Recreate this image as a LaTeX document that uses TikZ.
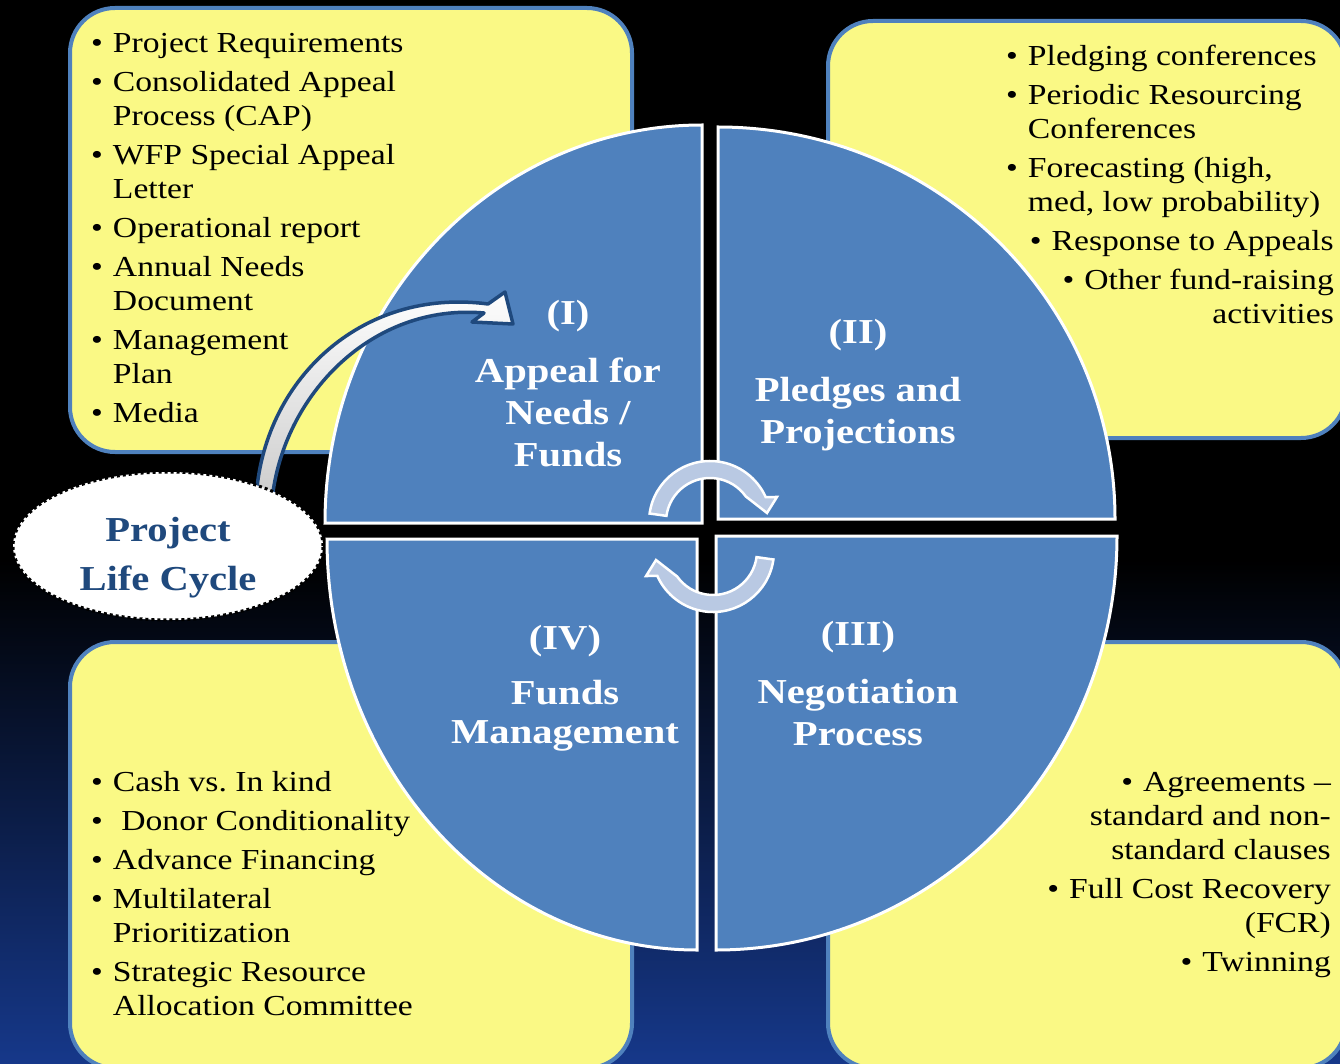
\documentclass[tikz,border=0pt]{standalone}
\usepackage{fontspec}
\setmainfont[FakeStretch=1.16]{Liberation Serif}
\usetikzlibrary{shapes.geometric}
\definecolor{noteyellow}{HTML}{FAF985}
\definecolor{noteblue}{HTML}{4F81BD}
\definecolor{titleblue}{HTML}{1F497D}
\definecolor{cyclelight}{HTML}{B9C9E3}
\definecolor{navy}{RGB}{22,56,138}

\begin{document}
\begin{tikzpicture}[x=1pt, y=-1pt,
    notebox/.style={fill=noteyellow, draw=noteblue, line width=4pt, rounded corners=45pt},
    quarter/.style={fill=noteblue, draw=white, line width=3pt},
    notetext/.style={inner sep=0pt, font=\fontsize{29}{34}\selectfont},
    phase/.style={inner sep=0pt, anchor=base, text=white, font=\bfseries\fontsize{35}{42}\selectfont},
    cycle ellipse/.style={ellipse, fill=white, draw=black, line width=3pt,
      dash pattern=on 3pt off 3pt, minimum width=310pt, minimum height=148pt},
    turn arrow/.pic={
      \filldraw[fill=cyclelight, draw=white, line width=2.5pt]
        (-172:61) arc[start angle=-172, end angle=-24, radius=61]
        -- (-20.5:71.5) -- (-9:57.7) -- (-35.5:44)
        arc[start angle=-35.5, end angle=-172, radius=44] -- cycle;
    }
  ]
  \useasboundingbox (0,0) rectangle (1340,1064);
  \clip (0,0) rectangle (1340,1064);
  \fill[black] (0,0) rectangle (1340,1064);
  \shade[top color=black, bottom color=navy] (0,560) rectangle (1340,1064);

  % the four note boxes
  \draw[notebox] (70,8) rectangle (632,452);
  \draw[notebox] (828,21) rectangle (1346,438);
  \draw[notebox] (70,642) rectangle (632,1068);
  \draw[notebox] (828,642) rectangle (1346,1068);

  % the cycle, one quarter at a time
  \filldraw[quarter] (702,523) -- (325,523)
    arc[start angle=180, end angle=270, x radius=377, y radius=398] -- cycle;
  \filldraw[quarter] (718,519) -- (718,127)
    arc[start angle=270, end angle=360, x radius=397, y radius=392] -- cycle;
  \filldraw[quarter] (716,536) -- (1117,536)
    arc[start angle=0, end angle=90, x radius=401, y radius=414] -- cycle;
  \filldraw[quarter] (697,539) -- (697,950)
    arc[start angle=90, end angle=180, x radius=370, y radius=411] -- cycle;

  \node[notetext, anchor=base west] (needs) at (91,53) {%
    \begin{tabular}[t]{@{}l@{\hspace{10pt}}l@{}}
      \textbullet & Project Requirements\\[5pt]
      \textbullet & Consolidated Appeal\\
                  & Process (CAP)\\[5pt]
      \textbullet & WFP Special Appeal\\
                  & Letter\\[5pt]
      \textbullet & Operational report\\[5pt]
      \textbullet & Annual Needs\\
                  & Document\\[5pt]
      \textbullet & Management\\
                  & Plan\\[5pt]
      \textbullet & Media
    \end{tabular}};
  \node[notetext, anchor=base west] (pledges) at (1006,66) {%
    \begin{tabular}[t]{@{}l@{\hspace{10pt}}l@{}}
      \textbullet & Pledging conferences\\[5pt]
      \textbullet & Periodic Resourcing\\
                  & Conferences\\[5pt]
      \textbullet & Forecasting (high,\\
                  & med, low probability)
    \end{tabular}};
  \node[notetext, anchor=base east] (appeals) at (1334,251) {%
    \begin{tabular}[t]{@{}r@{}}
      \textbullet\hspace{10pt}Response to Appeals\\[5pt]
      \textbullet\hspace{10pt}Other fund-raising\\
      activities
    \end{tabular}};
  \node[notetext, anchor=base east] (clauses) at (1331,791) {%
    \begin{tabular}[t]{@{}r@{}}
      \textbullet\hspace{10pt}Agreements –\\
      standard and non-\\
      standard clauses\\[5pt]
      \textbullet\hspace{10pt}Full Cost Recovery\\
      (FCR)\\[5pt]
      \textbullet\hspace{10pt}Twinning
    \end{tabular}};
  \node[notetext, anchor=base west] (funding) at (91,791) {%
    \begin{tabular}[t]{@{}l@{\hspace{10pt}}l@{}}
      \textbullet & Cash vs.\ In kind\\[5pt]
      \textbullet & \ Donor Conditionality\\[5pt]
      \textbullet & Advance Financing\\[5pt]
      \textbullet & Multilateral\\
                  & Prioritization\\[5pt]
      \textbullet & Strategic Resource\\
                  & Allocation Committee
    \end{tabular}};

  \node[phase] (appeal) at (568,324) {%
    \begin{tabular}[t]{@{}c@{}}(I)\\[16pt]Appeal for\\Needs /\\Funds\end{tabular}};
  \node[phase] (pledge) at (858,343) {%
    \begin{tabular}[t]{@{}c@{}}(II)\\[16pt]Pledges and\\Projections\end{tabular}};
  \node[phase] (negotiate) at (858,645) {%
    \begin{tabular}[t]{@{}c@{}}(III)\\[16pt]Negotiation\\Process\end{tabular}};
  \node[phase] (manage) at (565,649) {%
    \begin{tabular}[t]{@{}c@{}}(IV)\\[13pt]Funds\\[-3pt]Management\end{tabular}};

  \pic at (710,522) {turn arrow};
  \pic[rotate=180] at (713,551) {turn arrow};

  % bent arrow from the life cycle label up to (I)
  \shadedraw[top color=white, bottom color=gray!40, draw=titleblue, line width=3.5pt, line join=round]
    (256,500) .. controls (262,382) and (360,287) .. (488,304)
    -- (505,292) -- (513,324) -- (472,322) -- (484,313)
    .. controls (372,303) and (283,395) .. (272,500) -- cycle;

  \node[cycle ellipse] (plc) at (168,546) {};
  \node[inner sep=0pt, anchor=base, text=titleblue, font=\bfseries\fontsize{35}{49}\selectfont]
    (plclabel) at (168,541) {\begin{tabular}[t]{@{}c@{}}Project\\Life Cycle\end{tabular}};
\end{tikzpicture}
\end{document}
